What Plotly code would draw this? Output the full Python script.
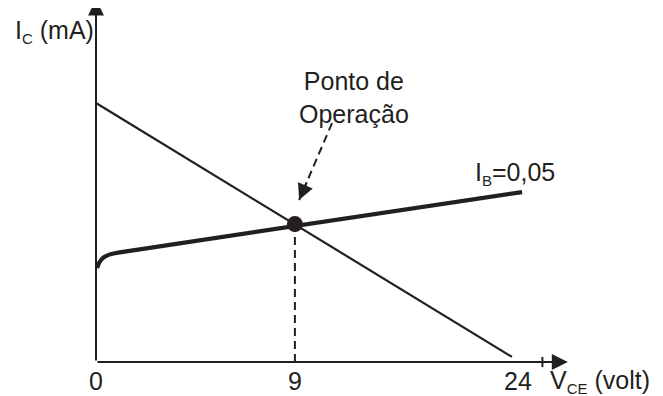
import plotly.graph_objects as go

# schematic units (the drawing is not to scale): origin at the axis corner
load_x = [0, 18.82]
load_y = [11.72, 0.23]

ib_x = [0.05, 0.15, 0.32, 0.6, 1.0, 19.28]
ib_y = [4.25, 4.50, 4.71, 4.86, 4.95, 7.69]

q_x = [9]
q_y = [6.24]

x_ticks = [0, 9, 19.1]
x_tick_labels = ["0", "9", "24"]
x_end = 21.35
y_end = 16.4
tick_mark_x = 20.2

pointer_x = [10.68, 9.19]
pointer_y = [10.81, 7.33]

ink = "#231f20"
font = dict(family="Liberation Sans, Arial, sans-serif", size=25, color=ink)


def sub(s):
    return "<sub><span style='font-size:15px'>" + s + "</span></sub>"


fig = go.Figure()

# load line
fig.add_trace(go.Scatter(x=load_x, y=load_y, mode="lines",
                         line=dict(color=ink, width=2.2)))
# I_B curve
fig.add_trace(go.Scatter(x=ib_x, y=ib_y, mode="lines",
                         line=dict(color=ink, width=4.2, shape="spline", smoothing=0.6)))
# vertical dashed from the operating point
fig.add_trace(go.Scatter(x=[q_x[0], q_x[0]], y=[q_y[0], 0], mode="lines",
                         line=dict(color=ink, width=2, dash="8px,5px")))
# dashed pointer
fig.add_trace(go.Scatter(x=pointer_x, y=pointer_y, mode="lines",
                         line=dict(color=ink, width=2, dash="8px,5px")))
# small tick near the arrow of the x axis
fig.add_trace(go.Scatter(x=[tick_mark_x, tick_mark_x], y=[-0.23, 0.23], mode="lines",
                         line=dict(color=ink, width=2)))
# operating point
fig.add_trace(go.Scatter(x=q_x, y=q_y, mode="markers",
                         marker=dict(color=ink, size=16)))

arrow = dict(showarrow=True, text="", axref="x", ayref="y", arrowhead=2,
             arrowwidth=2, arrowsize=1.6, arrowcolor=ink)
# axes
fig.add_annotation(x=x_end, y=0, ax=0, ay=0, **arrow)
fig.add_annotation(x=0, y=y_end, ax=0, ay=0, **arrow)
# pointer head
hx, hy = pointer_x[1], pointer_y[1]
tx, ty = pointer_x[0], pointer_y[0]
fig.add_annotation(x=hx, y=hy, ax=hx + (tx - hx) * 0.25, ay=hy + (ty - hy) * 0.25, **arrow)

for xv, lab in zip(x_ticks, x_tick_labels):
    fig.add_annotation(x=xv, y=-0.86, text=lab, showarrow=False, font=font,
                       xanchor="center", yanchor="middle")

fig.add_annotation(x=20.45, y=-0.86, text="V" + sub("CE") + " (volt)", showarrow=False,
                   font=font, xanchor="left", yanchor="middle")
fig.add_annotation(x=-3.76, y=14.95, text="I" + sub("C") + " (mA)", showarrow=False,
                   font=font, xanchor="left", yanchor="middle")
fig.add_annotation(x=17.06, y=8.55, text="I" + sub("B") + "=0,05", showarrow=False,
                   font=font, xanchor="left", yanchor="middle")
fig.add_annotation(x=11.67, y=11.99, text="Ponto de<br>Operação", showarrow=False,
                   font=font, xanchor="center", yanchor="middle", align="center")

# the page body has an 8px margin, so the visible window starts 8px into the figure
fig.update_layout(
    width=663, height=396,
    margin=dict(l=0, r=0, t=0, b=0),
    showlegend=False,
    plot_bgcolor="white", paper_bgcolor="white",
    xaxis=dict(range=[-3.982, 26.018], visible=False),
    yaxis=dict(range=[-1.900, 16.018], visible=False),
)

fig.write_html("out.html")
